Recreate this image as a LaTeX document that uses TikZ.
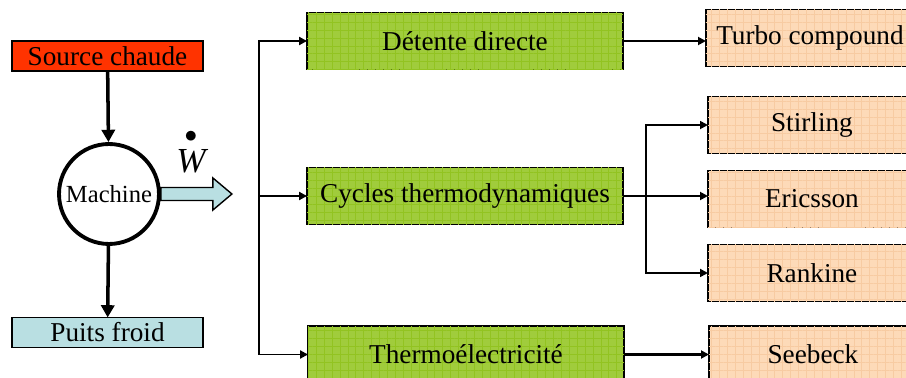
\documentclass[tikz,border=0pt]{standalone}
\usepackage{fontspec}
\setmainfont{Liberation Serif}
\usepackage{amsmath}
\usepackage{tikz}
\usetikzlibrary{arrows.meta, positioning, patterns.meta}
\definecolor{chaud}{HTML}{FF3300}
\definecolor{froid}{HTML}{B9DFE2}
\definecolor{vert}{HTML}{A0CC3C}
\definecolor{vertfonce}{HTML}{92C321}
\definecolor{peche}{HTML}{FDDAB8}
\definecolor{pechefonce}{HTML}{F7CBA2}

\begin{document}
\begin{tikzpicture}[
        x=0.02cm, y=-0.02cm,
        font=\fontsize{15.5}{17}\selectfont,
        box/.style={draw, line width=0.8pt, inner sep=0pt, outer sep=0pt, align=center},
        tag/.style={box, minimum width=3.82cm, minimum height=0.6cm},
        voie/.style={box, minimum width=6.32cm, minimum height=1.14cm, fill=vert,
                     postaction={pattern={Hatch[distance=4.5pt, line width=0.4pt]}, pattern color=vertfonce}},
        tech/.style={box, minimum width=4.16cm, minimum height=1.14cm, fill=peche,
                     postaction={pattern={Hatch[distance=4.5pt, line width=0.4pt]}, pattern color=pechefonce}},
        gros/.style={line width=2pt, -{Triangle[length=7pt, width=7.5pt]}},
        fin/.style={line width=1.1pt, -{Triangle[length=4.5pt, width=4.5pt]}},
    ]
        \useasboundingbox (0,0) rectangle (906,378);
        \clip (0,0) rectangle (906,378);

        % Machine thermique
        \node[tag, fill=chaud] (src) at (107.5,56) {Source chaude};
        \node[circle, draw, line width=2.2pt, minimum size=2cm, inner sep=0pt,
              font=\fontsize{14}{16}\selectfont] (mach) at (109,194) {Machine};
        \node[tag, fill=froid] (puits) at (107.5,332.5) {Puits froid};
        \node[font=\fontsize{20}{22}\selectfont] (w) at (191,150) {$\overset{\bullet}{\textit{W}}$};

        \draw[gros] (src) -- (mach);
        \draw[gros] (mach) -- (puits);
        \draw[fill=froid, line width=0.8pt] (mach.east) ++(0,-6.5) -- ++(52,0) -- ++(0,-9.5)
            -- ++(19,16) -- ++(-19,16) -- ++(0,-9.5) -- ++(-52,0) -- cycle;

        % Voies de conversion
        \node[voie] (det)   at (465,41)    {Détente directe};
        \node[voie] (cyc)   at (465,196)   {Cycles thermodynamiques};
        \node[voie] (therm) at (466,354.5) {Thermoélectricité};

        \coordinate (jg) at (259,196);
        \draw[fin] (jg) -- (cyc);
        \draw[fin] (jg) |- (det);
        \draw[fin] (jg) |- (therm);

        % Technologies
        \node[tech, right=1.66cm of det, yshift=0.06cm] (turbo) {Turbo compound};
        \node[tech, right=1.7cm of cyc, yshift=-0.06cm] (eric) {Ericsson};
        \node[tech, above=0.34cm of eric] (stir) {Stirling};
        \node[tech, below=0.34cm of eric] (rank) {Rankine};
        \node[tech, right=1.7cm of therm] (seeb) {Seebeck};

        \coordinate (jd) at ([xshift=0.46cm]cyc.east);
        \draw[fin, line width=1.4pt] (det.east) -- (det.east -| turbo.west);
        \draw[fin] (cyc.east) -- (cyc.east -| eric.west);
        \draw[fin] (jd) |- (stir);
        \draw[fin] (jd) |- (rank);
        \draw[fin, line width=1.4pt] (therm) -- (seeb);
    \end{tikzpicture}
\end{document}
